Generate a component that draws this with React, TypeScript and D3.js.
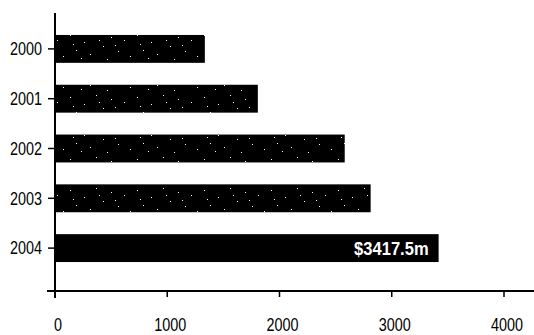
import React from "react";
import * as d3 from "d3";

// Annual totals, $m
const years = ["2000", "2001", "2002", "2003", "2004"];
const values = [1335, 1807, 2581, 2812, 3417.5];
const xTicks = [0, 1000, 2000, 3000, 4000];
const highlightLabel = "$3417.5m";

const W = 534;
const H = 335;
const FONT = "'Liberation Sans', Arial, sans-serif";

// Condensed text: regular glyphs squeezed horizontally
function NarrowText(props: {
  x: number;
  y: number;
  anchor: "start" | "middle" | "end";
  size: number;
  sx: number;
  fill?: string;
  bold?: boolean;
  children: React.ReactNode;
}) {
  const { x, y, anchor, size, sx, fill = "#000", bold, children } = props;
  return (
    <text
      transform={`translate(${x},${y}) scale(${sx},1)`}
      dy="0.35em"
      textAnchor={anchor}
      fontSize={size}
      fontWeight={bold ? "bold" : "normal"}
      fill={fill}
    >
      {children}
    </text>
  );
}

export default function App() {
  const x = d3.scaleLinear().domain([0, 4000]).range([55, 504]);
  const y = d3
    .scaleBand<string>()
    .domain(years)
    .range([24, 273])
    .paddingInner(0.44)
    .paddingOuter(0.22);

  const axisX = x(0);
  const axisY = 291;
  const last = years.length - 1;

  // sparse speckle used on the older bars
  const dots: [number, number][] = [
    [3, 4], [17, 11], [29, 2], [9, 19], [36, 15], [23, 23], [44, 6], [51, 20], [14, 27], [40, 28],
    [57, 9], [63, 25], [6, 13], [32, 9], [48, 14],
  ];

  return (
    <svg
      width={W}
      height={H}
      style={{ position: "absolute", left: 0, top: 0, background: "#fff" }}
      fontFamily={FONT}
    >
      <defs>
        <pattern id="speckle" width={67} height={31} patternUnits="userSpaceOnUse">
          <rect width={67} height={31} fill="#000" />
          {dots.map(([cx, cy], i) => (
            <rect key={i} x={cx} y={cy} width={1} height={1} fill="#fff" />
          ))}
        </pattern>
      </defs>

      {years.map((yr, i) => (
        <rect
          key={yr}
          x={x(0) + 1}
          y={y(yr)!}
          width={x(values[i]) - x(0) - 1}
          height={y.bandwidth()}
          fill={i === last ? "#000" : "url(#speckle)"}
        />
      ))}

      <NarrowText
        x={x(values[last]) - 10}
        y={y(years[last])! + y.bandwidth() / 2 + 0.5}
        anchor="end"
        size={18}
        sx={0.92}
        fill="#fff"
        bold
      >
        {highlightLabel}
      </NarrowText>

      {/* y axis */}
      <line x1={axisX} x2={axisX} y1={13} y2={298} stroke="#000" strokeWidth={2} />
      {years.map((yr) => {
        const cy = y(yr)! + y.bandwidth() / 2;
        return (
          <g key={yr}>
            <line x1={axisX - 7} x2={axisX} y1={cy} y2={cy} stroke="#000" strokeWidth={1.5} />
            <NarrowText x={42} y={cy} anchor="end" size={18} sx={0.8}>
              {yr}
            </NarrowText>
          </g>
        );
      })}

      {/* x axis */}
      <line x1={47} x2={W} y1={axisY} y2={axisY} stroke="#000" strokeWidth={2} />
      {xTicks.map((t) => (
        <g key={t}>
          <line x1={x(t)} x2={x(t)} y1={axisY} y2={axisY + 6} stroke="#000" strokeWidth={1.5} />
          <NarrowText x={x(t) + 3} y={325} anchor="middle" size={18} sx={0.8}>
            {t}
          </NarrowText>
        </g>
      ))}
    </svg>
  );
}
